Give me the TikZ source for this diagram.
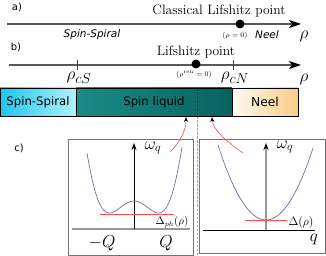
\documentclass[tikz,border=0pt]{standalone}
\usepackage{fontspec}
\newfontfamily\dejavu{DejaVu Sans}
\usetikzlibrary{arrows.meta}
\definecolor{curveblue}{HTML}{5A5AB4}
\definecolor{curvered}{HTML}{FF4A4A}
\definecolor{ssL}{HTML}{1CC6EC}
\definecolor{ssR}{HTML}{B0F2FC}
\definecolor{slL}{HTML}{1A8C89}
\definecolor{slM}{HTML}{5CBDBC}
\definecolor{slR}{HTML}{07625F}
\definecolor{neL}{HTML}{FFFBF4}
\definecolor{neR}{HTML}{F8CC88}
\tikzset{
  axisline/.style={draw=black!65, line width=1.1pt, -{Stealth[length=12pt,width=8pt,inset=3pt,color=black]}},
  tickmark/.style={draw=black!75, line width=0.8pt},
  bigdot/.style={circle, fill=black, inner sep=0pt, minimum size=9pt},
  barseg/.style={draw=black, line width=0.8pt, inner sep=0pt, minimum height=28pt, font=\dejavu\fontsize{11.7}{13}\selectfont},
  panelbox/.style={draw=black!55, line width=0.8pt},
  curve/.style={draw=curveblue, line width=0.6pt},
  gapline/.style={draw=curvered, line width=0.7pt},
  redarrow/.style={draw=curvered, line width=0.6pt, -{Stealth[length=5pt,width=4pt,color=black]}},
  lbl/.style={inner sep=0pt, font=\dejavu\fontsize{10}{12}\selectfont},
  serif/.style={inner sep=0pt, font=\fontsize{13.6}{15}\selectfont},
  itl/.style={inner sep=0pt, font=\dejavu\itshape\fontsize{10.5}{12}\selectfont},
  mth/.style={inner sep=0pt, font=\fontsize{19}{21}\selectfont},
  mthq/.style={inner sep=0pt, font=\fontsize{17}{19}\selectfont},
}
\begin{document}
\begin{tikzpicture}[x=1pt,y=-1pt]
\useasboundingbox (0,0) rectangle (326,256);
% ---- panel a
\node[lbl] (la) at (17,7) {a)};
\coordinate (a0) at (7,24);
\coordinate (a1) at (301,24);
\draw[axisline] (a0) -- (a1);
\node[bigdot] (cdot) at (240,24) {};
\node[serif] (clp) at (219,11) {Classical Lifshitz point};
\node[itl] (ssa) at (92,35) {Spin-Spiral};
\node[inner sep=0pt, font=\fontsize{7.5}{9}\selectfont] (rz) at (235,36) {$(\rho=0)$};
\node[itl] (nea) at (267,35) {Neel};
\node[mth] (rhoa) at (304,36) {$\rho$};
% ---- panel b
\node[lbl] (lb) at (16,47) {b)};
\coordinate (b0) at (9,65);
\coordinate (b1) at (301,65);
\draw[axisline] (b0) -- (b1);
\draw[tickmark] (77,60) -- (77,70);
\draw[tickmark] (233,60) -- (233,70);
\node[bigdot] (ldot) at (196,64) {};
\node[serif] (lfp) at (196,52) {Lifshitz point};
\node[inner sep=0pt, font=\fontsize{7.5}{9}\selectfont] (rr) at (194,75) {$(\rho^{\rm ren}=0)$};
\node[mth] (rcs) at (79,78) {$\rho_{cS}$};
\node[mth] (rcn) at (235,78) {$\rho_{cN}$};
\node[mth] (rhob) at (304,79) {$\rho$};
% ---- bar
\node[barseg, minimum width=76pt, left color=ssL, right color=ssR] (ss) at (38,102) {Spin-Spiral};
\node[barseg, minimum width=156pt, left color=slL, middle color=slM, right color=slR] (sl) at (154,102) {Spin liquid};
\node[barseg, minimum width=66pt, left color=neL, right color=neR, font=\dejavu\fontsize{12.3}{14}\selectfont] (ne) at (265,102) {Neel};
% dashed separator
\draw[black, opacity=0.35, line width=0.7pt, dash pattern=on 2.5pt off 1.5pt] (197,88.5) -- (197,256);
% ---- panel c
\node[lbl] (lc) at (19,148) {c)};
\draw[panelbox] (68,139) rectangle (193,255);
\draw[panelbox] (199,139) rectangle (325,253);
% left panel
\draw[draw=black!40, line width=1.3pt] (72,229) -- (190,229);
\draw[black, line width=0.7pt, -{Stealth[length=7pt,width=5pt]}] (134,229) -- (134,143);
\draw[curve] plot[domain=-47:48, samples=120, smooth]
  ({134+\x},{213-(11*(\x*\x/600.25-1)*(\x*\x/600.25-1)-0.995*(\x*\x/600.25-1)*(\x*\x/600.25-1)*(\x*\x/600.25-1))});
\draw[gapline] (100,214) -- (174,214);
\node[inner sep=0pt, font=\fontsize{17}{19}\selectfont] (wl) at (153,148) {$\omega_q$};
\node[inner sep=0pt, font=\fontsize{10.5}{12}\selectfont] (dph) at (172,222) {$\Delta_{ph}(\rho)$};
\node[mthq] (mq) at (102,243) {$-Q$};
\node[mthq] (pq) at (166,243) {$Q$};
% right panel
\draw[black, line width=0.8pt] (203,230) -- (315,230);
\draw[draw=black!40, line width=1.6pt, -{Stealth[length=7pt,width=5pt,color=black]}] (266,230) -- (266,143);
\draw[curve] plot[domain=-48:47, samples=100, smooth] ({266+\x},{220-72*(\x/47)*(\x/47)});
\draw[gapline] (245,220) -- (287,220);
\node[inner sep=0pt, font=\fontsize{17}{19}\selectfont] (wr) at (285,147) {$\omega_q$};
\node[inner sep=0pt, font=\fontsize{11.5}{13}\selectfont] (dr) at (301,222) {$\Delta(\rho)$};
\node[mth] (qr) at (314,239) {$q$};
% red connectors
\coordinate (ls) at (170,152);
\coordinate (lt) at (186,117);
\coordinate (rs) at (243,153);
\coordinate (rt) at (212,117);
\draw[redarrow] (ls) .. controls (181,141) and (186,130) .. (lt);
\draw[redarrow] (rs) .. controls (226,141) and (213,130) .. (rt);
\end{tikzpicture}
\end{document}
